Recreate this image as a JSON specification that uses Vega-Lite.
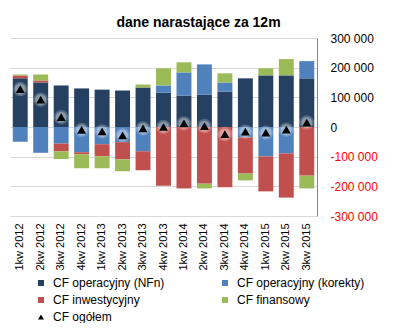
{
  "$schema": "https://vega.github.io/schema/vega-lite/v6.json",
  "width": 307,
  "height": 178,
  "autosize": {"type": "pad"},
  "padding": {"left": 10, "top": 16, "right": 0, "bottom": 0},
  "background": "white",
  "title": {"text": "dane narastające za 12m", "font": "Liberation Sans", "fontSize": 14, "fontWeight": "bold", "color": "#000000", "anchor": "middle", "offset": 6, "dx": 35, "dy": 4},
  "config": {
    "view": {"stroke": null},
    "font": "Liberation Sans",
    "axisY": {"labelOverlap": false, "labelBound": false, "labelFlush": false},
    "locale": {"number": {"decimal": ",", "thousands": " ", "grouping": [3], "currency": ["", ""], "minus": "-"}}
  },
  "datasets": {
    "bars": [
      {"q": "1kw 2012", "s": "CF operacyjny (NFn)", "n": 1, "v": 164000},
      {"q": "1kw 2012", "s": "CF operacyjny (korekty)", "n": 2, "v": -50000},
      {"q": "1kw 2012", "s": "CF inwestycyjny", "n": 3, "v": 10000},
      {"q": "1kw 2012", "s": "CF finansowy", "n": 4, "v": 3000},
      {"q": "2kw 2012", "s": "CF operacyjny (NFn)", "n": 1, "v": 150000},
      {"q": "2kw 2012", "s": "CF operacyjny (korekty)", "n": 2, "v": -87000},
      {"q": "2kw 2012", "s": "CF inwestycyjny", "n": 3, "v": 7000},
      {"q": "2kw 2012", "s": "CF finansowy", "n": 4, "v": 20000},
      {"q": "3kw 2012", "s": "CF operacyjny (NFn)", "n": 1, "v": 140000},
      {"q": "3kw 2012", "s": "CF operacyjny (korekty)", "n": 2, "v": -56000},
      {"q": "3kw 2012", "s": "CF inwestycyjny", "n": 3, "v": -26000},
      {"q": "3kw 2012", "s": "CF finansowy", "n": 4, "v": -26000},
      {"q": "4kw 2012", "s": "CF operacyjny (NFn)", "n": 1, "v": 130000},
      {"q": "4kw 2012", "s": "CF operacyjny (korekty)", "n": 2, "v": -85000},
      {"q": "4kw 2012", "s": "CF inwestycyjny", "n": 3, "v": -7000},
      {"q": "4kw 2012", "s": "CF finansowy", "n": 4, "v": -47000},
      {"q": "1kw 2013", "s": "CF operacyjny (NFn)", "n": 1, "v": 126000},
      {"q": "1kw 2013", "s": "CF operacyjny (korekty)", "n": 2, "v": -58000},
      {"q": "1kw 2013", "s": "CF inwestycyjny", "n": 3, "v": -41000},
      {"q": "1kw 2013", "s": "CF finansowy", "n": 4, "v": -40000},
      {"q": "2kw 2013", "s": "CF operacyjny (NFn)", "n": 1, "v": 123000},
      {"q": "2kw 2013", "s": "CF operacyjny (korekty)", "n": 2, "v": -51000},
      {"q": "2kw 2013", "s": "CF inwestycyjny", "n": 3, "v": -58000},
      {"q": "2kw 2013", "s": "CF finansowy", "n": 4, "v": -40000},
      {"q": "3kw 2013", "s": "CF operacyjny (NFn)", "n": 1, "v": 133000},
      {"q": "3kw 2013", "s": "CF operacyjny (korekty)", "n": 2, "v": -82000},
      {"q": "3kw 2013", "s": "CF inwestycyjny", "n": 3, "v": -64000},
      {"q": "3kw 2013", "s": "CF finansowy", "n": 4, "v": 10000},
      {"q": "4kw 2013", "s": "CF operacyjny (NFn)", "n": 1, "v": 116000},
      {"q": "4kw 2013", "s": "CF operacyjny (korekty)", "n": 2, "v": 24000},
      {"q": "4kw 2013", "s": "CF inwestycyjny", "n": 3, "v": -198000},
      {"q": "4kw 2013", "s": "CF finansowy", "n": 4, "v": 58000},
      {"q": "1kw 2014", "s": "CF operacyjny (NFn)", "n": 1, "v": 106000},
      {"q": "1kw 2014", "s": "CF operacyjny (korekty)", "n": 2, "v": 78000},
      {"q": "1kw 2014", "s": "CF inwestycyjny", "n": 3, "v": -207000},
      {"q": "1kw 2014", "s": "CF finansowy", "n": 4, "v": 34000},
      {"q": "2kw 2014", "s": "CF operacyjny (NFn)", "n": 1, "v": 109000},
      {"q": "2kw 2014", "s": "CF operacyjny (korekty)", "n": 2, "v": 102000},
      {"q": "2kw 2014", "s": "CF inwestycyjny", "n": 3, "v": -191000},
      {"q": "2kw 2014", "s": "CF finansowy", "n": 4, "v": -16000},
      {"q": "3kw 2014", "s": "CF operacyjny (NFn)", "n": 1, "v": 119000},
      {"q": "3kw 2014", "s": "CF operacyjny (korekty)", "n": 2, "v": 31000},
      {"q": "3kw 2014", "s": "CF inwestycyjny", "n": 3, "v": -203000},
      {"q": "3kw 2014", "s": "CF finansowy", "n": 4, "v": 31000},
      {"q": "4kw 2014", "s": "CF operacyjny (NFn)", "n": 1, "v": 164000},
      {"q": "4kw 2014", "s": "CF operacyjny (korekty)", "n": 2, "v": -35000},
      {"q": "4kw 2014", "s": "CF inwestycyjny", "n": 3, "v": -122000},
      {"q": "4kw 2014", "s": "CF finansowy", "n": 4, "v": -23000},
      {"q": "1kw 2015", "s": "CF operacyjny (NFn)", "n": 1, "v": 174000},
      {"q": "1kw 2015", "s": "CF operacyjny (korekty)", "n": 2, "v": -99000},
      {"q": "1kw 2015", "s": "CF inwestycyjny", "n": 3, "v": -118000},
      {"q": "1kw 2015", "s": "CF finansowy", "n": 4, "v": 24000},
      {"q": "2kw 2015", "s": "CF operacyjny (NFn)", "n": 1, "v": 174000},
      {"q": "2kw 2015", "s": "CF operacyjny (korekty)", "n": 2, "v": -89000},
      {"q": "2kw 2015", "s": "CF inwestycyjny", "n": 3, "v": -149000},
      {"q": "2kw 2015", "s": "CF finansowy", "n": 4, "v": 55000},
      {"q": "3kw 2015", "s": "CF operacyjny (NFn)", "n": 1, "v": 164000},
      {"q": "3kw 2015", "s": "CF operacyjny (korekty)", "n": 2, "v": 58000},
      {"q": "3kw 2015", "s": "CF inwestycyjny", "n": 3, "v": -164000},
      {"q": "3kw 2015", "s": "CF finansowy", "n": 4, "v": -43000}
    ],
    "total": [
      {"q": "1kw 2012", "s": "CF ogółem", "v": 128000},
      {"q": "2kw 2012", "s": "CF ogółem", "v": 92000},
      {"q": "3kw 2012", "s": "CF ogółem", "v": 33000},
      {"q": "4kw 2012", "s": "CF ogółem", "v": -10000},
      {"q": "1kw 2013", "s": "CF ogółem", "v": -15000},
      {"q": "2kw 2013", "s": "CF ogółem", "v": -28000},
      {"q": "3kw 2013", "s": "CF ogółem", "v": -5000},
      {"q": "4kw 2013", "s": "CF ogółem", "v": 0},
      {"q": "1kw 2014", "s": "CF ogółem", "v": 12000},
      {"q": "2kw 2014", "s": "CF ogółem", "v": 3000},
      {"q": "3kw 2014", "s": "CF ogółem", "v": -24000},
      {"q": "4kw 2014", "s": "CF ogółem", "v": -16000},
      {"q": "1kw 2015", "s": "CF ogółem", "v": -19000},
      {"q": "2kw 2015", "s": "CF ogółem", "v": -9000},
      {"q": "3kw 2015", "s": "CF ogółem", "v": 15000}
    ]
  },
  "encoding": {
    "x": {
      "field": "q", "type": "nominal", "sort": null,
      "scale": {"paddingInner": 0.27, "paddingOuter": 0.135},
      "axis": {"title": null, "labelAngle": -90, "labelFontSize": 11, "labelColor": "#000000", "domain": false, "ticks": false, "labelPadding": 7}
    },
    "y": {
      "field": "v", "type": "quantitative",
      "scale": {"domain": [-300000, 300000], "nice": false},
      "axis": {
        "orient": "right", "title": null, "values": [-300000, -200000, -100000, 0, 100000, 200000, 300000],
        "format": ",d", "labelFontSize": 12, "labelPadding": 13, "ticks": false, "labelOverlap": false, "labelBound": false,
        "domain": true, "domainColor": "#868686", "grid": true, "gridColor": "#D9D9D9",
        "labelColor": {"condition": {"test": "datum.value < 0", "value": "#FF0000"}, "value": "#000000"}
      }
    }
  },
  "layer": [
    {
      "data": {"name": "bars"},
      "mark": {"type": "bar"},
      "encoding": {
        "y": {
          "field": "v", "type": "quantitative", "stack": "zero"
        },
        "order": {"field": "n", "type": "quantitative"},
        "color": {
          "field": "s", "type": "nominal",
          "scale": {
            "domain": ["CF operacyjny (NFn)", "CF inwestycyjny", "CF ogółem", "CF operacyjny (korekty)", "CF finansowy"],
            "range": ["#254061", "#C0504D", "#000000", "#4F81BD", "#9BBB59"]
          },
          "legend": {
            "title": null, "orient": "none", "legendX": 25, "legendY": 239, "columns": 2, "columnPadding": 54, "rowPadding": 5,
            "padding": 0, "symbolSize": 36, "symbolType": "square", "symbolStrokeWidth": 0, "labelFontSize": 12, "labelColor": "#000000", "labelOffset": 6,
            "encode": {"symbols": {"update": {"shape": {"signal": "datum.value === 'CF ogółem' ? 'triangle-up' : 'square'"}}}}
          }
        }
      }
    },
    {
      "mark": {"type": "rule", "color": "#868686", "strokeWidth": 1},
      "encoding": {"y": {"datum": 0}}
    },
    {
      "data": {"name": "total"},
      "mark": {"type": "point", "shape": "circle", "filled": true, "fill": "#FFFFFF", "strokeWidth": 0, "opacity": 0.22, "size": 210},
      "encoding": {}
    },
    {
      "data": {"name": "total"},
      "mark": {"type": "point", "shape": "circle", "filled": true, "fill": "#FFFFFF", "strokeWidth": 0, "opacity": 0.3, "size": 120},
      "encoding": {}
    },
    {
      "data": {"name": "total"},
      "mark": {"type": "point", "shape": "triangle-up", "filled": true, "opacity": 1, "size": 80},
      "encoding": {
        "color": {"field": "s", "type": "nominal"}
      }
    }
  ]
}
